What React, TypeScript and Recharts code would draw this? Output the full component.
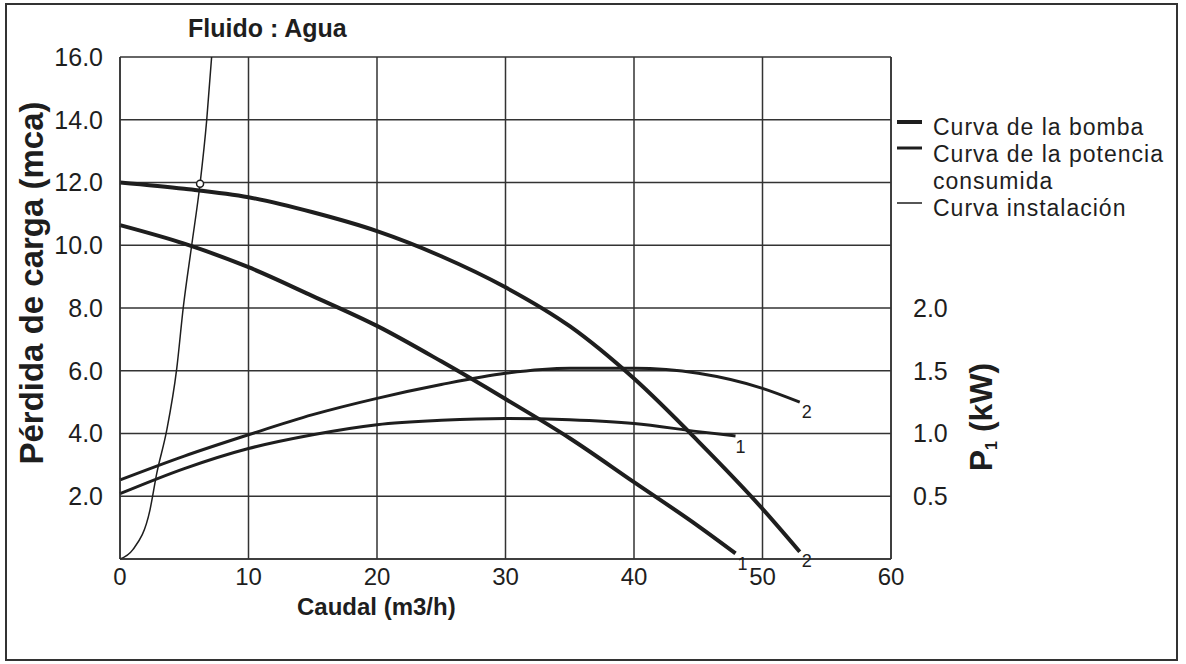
import React from "react";
import {
  LineChart,
  Line,
  XAxis,
  YAxis,
  CartesianGrid,
  ReferenceDot,
} from "recharts";

// Caudal (m3/h) ticks and axis ticks
const caudalTicks = [0, 10, 20, 30, 40, 50, 60];
const perdidaTicks = [2, 4, 6, 8, 10, 12, 14, 16];
const potenciaTicks = [0.5, 1.0, 1.5, 2.0];

// Curva de la bomba (mca)
const bomba1 = [
  { q: 0, h: 10.64 },
  { q: 5, h: 10.05 },
  { q: 10, h: 9.3 },
  { q: 15, h: 8.38 },
  { q: 20, h: 7.43 },
  { q: 25, h: 6.3 },
  { q: 30, h: 5.1 },
  { q: 35, h: 3.85 },
  { q: 40, h: 2.45 },
  { q: 45, h: 1.05 },
  { q: 47.9, h: 0.18 },
];

const bomba2 = [
  { q: 0, h: 12.0 },
  { q: 5, h: 11.8 },
  { q: 10, h: 11.53 },
  { q: 15, h: 11.05 },
  { q: 20, h: 10.45 },
  { q: 25, h: 9.65 },
  { q: 30, h: 8.66 },
  { q: 35, h: 7.42 },
  { q: 40, h: 5.75 },
  { q: 45, h: 3.75 },
  { q: 50, h: 1.6 },
  { q: 52.9, h: 0.23 },
];

// Curva de la potencia consumida (kW)
const potencia1 = [
  { q: 0, p: 0.52 },
  { q: 5, p: 0.72 },
  { q: 10, p: 0.88 },
  { q: 15, p: 0.99 },
  { q: 20, p: 1.07 },
  { q: 25, p: 1.105 },
  { q: 30, p: 1.12 },
  { q: 35, p: 1.11 },
  { q: 40, p: 1.08 },
  { q: 45, p: 1.015 },
  { q: 47.9, p: 0.98 },
];

const potencia2 = [
  { q: 0, p: 0.63 },
  { q: 5, p: 0.82 },
  { q: 10, p: 0.99 },
  { q: 15, p: 1.15 },
  { q: 20, p: 1.28 },
  { q: 25, p: 1.39 },
  { q: 30, p: 1.48 },
  { q: 35, p: 1.52 },
  { q: 40, p: 1.52 },
  { q: 45, p: 1.48 },
  { q: 50, p: 1.36 },
  { q: 52.9, p: 1.25 },
];

// Curva instalación (mca)
const instalacion = [
  { q: 0, h: 0 },
  { q: 1.0, h: 0.3 },
  { q: 2.33, h: 1.56 },
  { q: 2.86, h: 2.73 },
  { q: 3.63, h: 4.09 },
  { q: 4.41, h: 6.05 },
  { q: 4.93, h: 8.04 },
  { q: 5.58, h: 10.0 },
  { q: 6.23, h: 11.96 },
  { q: 6.75, h: 14.0 },
  { q: 7.13, h: 16.0 },
];

const puntoTrabajo = { q: 6.23, h: 11.96 };

const ink = "#1e1e1e";
const font = "'Liberation Sans', Arial, sans-serif";

const endLabel = (text: string, count: number, dx: number, dy: number) =>
  (props: any) => {
    if (props.index !== count - 1) return null;
    return (
      <text
        x={props.x + dx}
        y={props.y + dy}
        textAnchor="middle"
        dominantBaseline="central"
        fontSize={18}
        fontFamily={font}
        fill={ink}
      >
        {text}
      </text>
    );
  };

export default function App() {
  return (
    <div style={{ position: "relative", width: 1186, height: 664, background: "#fff" }}>
      <style>{`body{margin:0}`}</style>
      <LineChart
        width={1186}
        height={664}
        margin={{ top: 57, right: 195, bottom: 65, left: 0 }}
      >
        <CartesianGrid yAxisId="left" stroke="#333" strokeWidth={1.5} />
        <XAxis
          type="number"
          dataKey="q"
          domain={[0, 60]}
          ticks={caudalTicks}
          height={40}
          tickLine={false}
          tickSize={0}
          tickMargin={9}
          axisLine={{ stroke: "#333", strokeWidth: 1.5 }}
          tick={{ fontSize: 24, fill: ink, fontFamily: font }}
        />
        <YAxis
          yAxisId="left"
          domain={[0, 16]}
          ticks={perdidaTicks}
          width={120}
          tickLine={false}
          tickSize={0}
          tickMargin={17}
          tickFormatter={(v: number) => v.toFixed(1)}
          axisLine={{ stroke: "#333", strokeWidth: 1.5 }}
          tick={{ fontSize: 25, fill: ink, fontFamily: font }}
        />
        <YAxis
          yAxisId="right"
          orientation="right"
          domain={[0, 4]}
          ticks={potenciaTicks}
          width={100}
          tickLine={false}
          tickSize={0}
          tickMargin={22}
          tickFormatter={(v: number) => v.toFixed(1)}
          axisLine={{ stroke: "#333", strokeWidth: 1.5 }}
          tick={{ fontSize: 25, fill: ink, fontFamily: font, textAnchor: "start" }}
        />
        <Line
          yAxisId="left"
          data={instalacion}
          dataKey="h"
          type="monotone"
          stroke={ink}
          strokeWidth={1.5}
          dot={false}
          isAnimationActive={false}
        />
        <Line
          yAxisId="left"
          data={bomba1}
          dataKey="h"
          type="monotone"
          stroke={ink}
          strokeWidth={4}
          dot={false}
          label={endLabel("1", bomba1.length, 7, 11)}
          isAnimationActive={false}
        />
        <Line
          yAxisId="left"
          data={bomba2}
          dataKey="h"
          type="monotone"
          stroke={ink}
          strokeWidth={4}
          dot={false}
          label={endLabel("2", bomba2.length, 7, 9)}
          isAnimationActive={false}
        />
        <Line
          yAxisId="right"
          data={potencia1}
          dataKey="p"
          type="monotone"
          stroke={ink}
          strokeWidth={3}
          dot={false}
          label={endLabel("1", potencia1.length, 5, 11)}
          isAnimationActive={false}
        />
        <Line
          yAxisId="right"
          data={potencia2}
          dataKey="p"
          type="monotone"
          stroke={ink}
          strokeWidth={3}
          dot={false}
          label={endLabel("2", potencia2.length, 7, 10)}
          isAnimationActive={false}
        />
        <ReferenceDot
          yAxisId="left"
          x={puntoTrabajo.q}
          y={puntoTrabajo.h}
          r={3.5}
          fill="#fff"
          stroke={ink}
          strokeWidth={1.5}
        />
      </LineChart>

      <svg
        width={1186}
        height={664}
        style={{ position: "absolute", left: 0, top: 0, pointerEvents: "none" }}
        fontFamily={font}
        fill={ink}
      >
        <rect x={6} y={4} width={1171} height={656} fill="none" stroke="#333" strokeWidth={2} />
        <text x={188} y={37} fontSize={25} fontWeight="bold">
          Fluido : Agua
        </text>
        <text x={297} y={615} fontSize={24} fontWeight="bold">
          Caudal (m3/h)
        </text>
        <text
          x={43}
          y={283}
          transform="rotate(-90 43 283)"
          textAnchor="middle"
          fontSize={33}
          fontWeight="bold"
        >
          Pérdida de carga (mca)
        </text>
        <text
          x={992}
          y={417}
          transform="rotate(-90 992 417)"
          textAnchor="middle"
          fontSize={32}
          fontWeight="bold"
        >
          P
          <tspan fontSize={16} dy={5}>1</tspan>
          <tspan dy={-5}> (kW)</tspan>
        </text>

        <g fontSize={23} letterSpacing={1}>
          <line x1={897} x2={922} y1={122} y2={122} stroke={ink} strokeWidth={4} />
          <text x={933} y={127} dominantBaseline="central">
            Curva de la bomba
          </text>
          <line x1={897} x2={922} y1={148} y2={148} stroke={ink} strokeWidth={3} />
          <text x={933} y={154} dominantBaseline="central">
            Curva de la potencia
          </text>
          <text x={933} y={181} dominantBaseline="central">
            consumida
          </text>
          <line x1={897} x2={922} y1={203} y2={203} stroke={ink} strokeWidth={1.5} />
          <text x={933} y={208} dominantBaseline="central">
            Curva instalación
          </text>
        </g>
      </svg>
    </div>
  );
}
